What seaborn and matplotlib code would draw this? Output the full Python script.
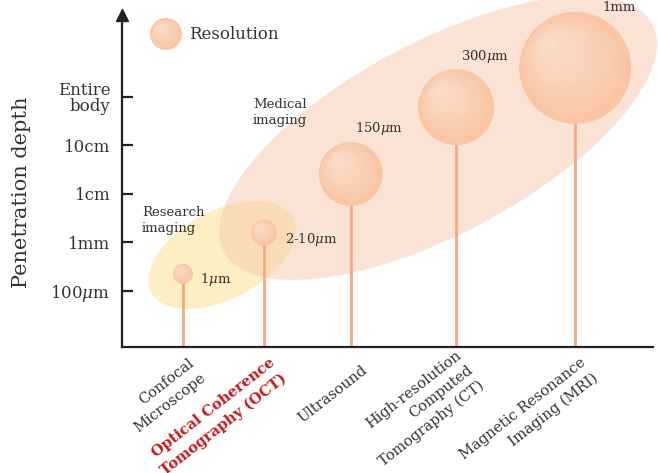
"""
Imaging modalities: penetration depth vs. resolution bubble chart.
"""
import numpy as np
import matplotlib
matplotlib.use("Agg")
import matplotlib.pyplot as plt
import seaborn as sns
from matplotlib.patches import Ellipse
from matplotlib.transforms import Affine2D, ScaledTranslation

# --- data -------------------------------------------------------------------
techniques = ["Confocal\nMicroscope",
              "Optical Coherence\nTomography (OCT)",
              "Ultrasound",
              "High-resolution\nComputed\nTomography (CT)",
              "Magnetic Resonance\nImaging (MRI)"]
tech_pos = [1.0, 2.0, 3.07, 4.37, 5.84]          # spacing along x as drawn
depth = [1.35, 2.20, 3.41, 4.79, 5.60]           # penetration depth (tick units)
resolution = ["1$\\mu$m", "2-10$\\mu$m", "150$\\mu$m", "300$\\mu$m", "1mm"]
bubble_radius = [10, 13, 32, 38, 56]             # resolution bubble radius (px)

depth_ticks = [1, 2, 3, 4, 5]
depth_labels = ["100$\\mu$m", "1mm", "1cm", "10cm", "Entire\nbody"]

# --- style ------------------------------------------------------------------
sns.set_theme(style="white")
plt.rcParams["font.family"] = ["DejaVu Serif"]
plt.rcParams["mathtext.fontset"] = "dejavuserif"
TXT = "#333333"
BUBBLE = "#f9c5a3"
STEM = "#f5aa7d"

W, H, DPI = 658, 473, 100
fig = plt.figure(figsize=(W / DPI, H / DPI), dpi=DPI)
ax = fig.add_axes([122 / W, 126 / H, 531 / W, 332 / H])
ax.set_xlim(0.247, 6.80)
ax.set_ylim(-0.155, 6.69)

PX_X, PX_Y = 81.0, 48.5   # pixels per data unit


def px2data(px, py):
    return 1 + (px - 183) / PX_X, 1 + (291 - py) / PX_Y


def region(cx, cy, w, h, angle, color, alpha, z):
    x0, y0 = px2data(cx, cy)
    e = Ellipse((0, 0), w, h, angle=angle, facecolor=color, alpha=alpha,
                edgecolor="none", zorder=z, clip_on=False)
    e.set_transform(Affine2D().scale(1 / PX_X, 1 / PX_Y).translate(x0, y0) + ax.transData)
    ax.add_patch(e)


def shaded_bubbles(xs, ys, radii):
    xs, ys, radii = np.asarray(xs, float), np.asarray(ys, float), np.asarray(radii, float)
    s = (2 * radii * 72 / DPI) ** 2
    sns.scatterplot(x=xs, y=ys, s=s, color=BUBBLE, edgecolor="none", linewidth=0,
                    zorder=3, ax=ax, legend=False, clip_on=False)
    # soft highlight toward the upper left
    for k in range(1, 9):
        f = k / 9
        off = 0.5 * radii * f
        ax.scatter(xs - off / PX_X, ys + off / PX_Y, s=s * (1 - f) ** 2,
                   color="white", alpha=0.07, linewidth=0, zorder=4, clip_on=False)


# background regions
region(222, 255, 160, 88, 28, "#fdeec4", 1.0, 0)
region(438, 138, 485, 192, 28, "#f7c9ad", 0.5, 1)
ax.text(*px2data(142, 221), "Research\nimaging", fontsize=9.5, color=TXT,
        va="center", ha="left", linespacing=1.3)
ax.text(*px2data(253, 113), "Medical\nimaging", fontsize=9.5, color=TXT,
        va="center", ha="left", linespacing=1.3)

# stems and bubbles
ax.vlines(tech_pos, ax.get_ylim()[0], depth, color=STEM, lw=2, zorder=2)
shaded_bubbles(tech_pos, depth, bubble_radius)

# resolution labels
offsets = [(17, -5), (21, -7), (4, 46), (5, 51), (27, 60)]
for x, y, lab, (dx, dy) in zip(tech_pos, depth, resolution, offsets):
    ax.annotate(lab, (x, y), xytext=(dx, dy), textcoords="offset pixels",
                fontsize=9.5, color=TXT, va="center", ha="left", zorder=5,
                annotation_clip=False)

# legend bubble
lx, ly = px2data(166, 34)
shaded_bubbles([lx], [ly], [16])
ax.text(*px2data(189, 35), "Resolution", fontsize=12, color=TXT, va="center", ha="left")

# axes
for s in ["top", "right"]:
    ax.spines[s].set_visible(False)
for s in ["left", "bottom"]:
    ax.spines[s].set_color("#222222")
    ax.spines[s].set_linewidth(1.6)
ax.plot([0], [1.0], marker="^", color="#222222", markersize=8,
        transform=ax.transAxes, clip_on=False, zorder=6)

ax.set_yticks(depth_ticks)
ax.set_yticklabels(depth_labels, fontsize=12, color=TXT, linespacing=0.95)
ax.tick_params(axis="y", direction="in", length=8, width=1.6, color="#222222", pad=8.5,
               left=True)
ax.set_ylabel("Penetration depth", fontsize=15, color=TXT)
ax.yaxis.set_label_coords(-0.171, 0.467)

ax.set_xticks(tech_pos)
ax.set_xticklabels(techniques, fontsize=10.5, color=TXT, rotation=38,
                   ha="right", va="center", rotation_mode="anchor",
                   multialignment="right", linespacing=1.45)
ax.tick_params(axis="x", length=0, pad=0)
shift = ScaledTranslation(15 / DPI, -22 / DPI, fig.dpi_scale_trans)
for lab in ax.get_xticklabels():
    lab.set_transform(lab.get_transform() + shift)
oct_lab = ax.get_xticklabels()[1]
oct_lab.set_color("#c8161d")
oct_lab.set_fontweight("bold")

ax.grid(False)
fig.savefig("out.png", dpi=DPI)
